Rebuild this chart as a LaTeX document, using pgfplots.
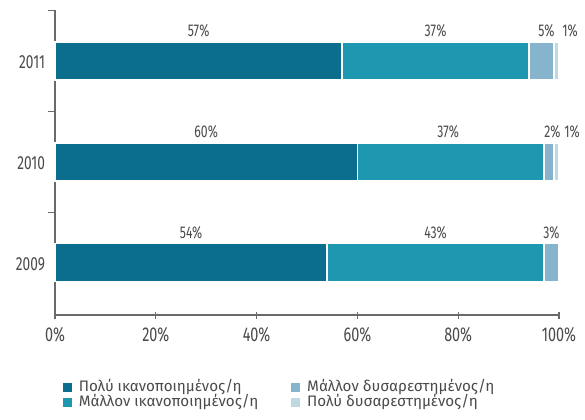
\documentclass[border=0pt]{standalone}
\usepackage{fontspec}
\setmainfont[FakeStretch=0.72]{Fira Sans}
\newfontfamily\legfont{Fira Sans}
\usepackage{pgfplots}
\pgfplotsset{compat=1.18}

\definecolor{c1}{HTML}{0B6E8C}
\definecolor{c2}{HTML}{1E97B0}
\definecolor{c3}{HTML}{86B4CD}
\definecolor{c4}{HTML}{C0D8E2}
\definecolor{txt}{HTML}{4A4A4A}
\definecolor{axl}{HTML}{6A6A6A}

\begin{document}
\begin{tikzpicture}
\useasboundingbox (-27.5pt,-52pt) rectangle (265pt,157.5pt);
\begin{axis}[
  scale only axis, width=252pt, height=152.5pt,
  xbar stacked, bar width=19pt, clip=false,
  xmin=0, xmax=100, ymin=-0.52, ymax=2.505,
  axis x line*=bottom, axis y line*=left,
  axis line style={axl, line width=0.6pt, -},
  major tick length=3.5pt,
  xtick align=center, ytick align=outside,
  xtick={0,20,40,60,80,100},
  xticklabels={0\%,20\%,40\%,60\%,80\%,100\%},
  ytick={0.5,1.5,2.5}, yticklabels={},
  extra y ticks={0,1,2}, extra y tick labels={2009,2010,2011},
  extra y tick style={tick style={draw=none}},
  tick style={axl, line width=0.6pt},
  xticklabel style={font=\fontsize{10}{12}\selectfont, text=txt, yshift=-1pt},
  yticklabel style={font=\fontsize{9.5}{11}\selectfont, text=txt, xshift=2pt, yshift=-0.8pt},
  legend columns=2, transpose legend, legend cell align=left,
  legend style={at={(0.0,-0.198)}, anchor=north west, draw=none, fill=none,
    font=\legfont\fontsize{7.6}{8}\selectfont, text=txt, row sep=0pt,
    nodes={inner sep=0.2pt, text height=5.6pt, text depth=1.6pt},
    /tikz/every odd column/.append style={column sep=2.5pt},
    /tikz/every even column/.append style={column sep=15.5pt}},
  legend image code/.code={\fill[#1] (0pt,-2.5pt) rectangle (5.2pt,2.7pt);},
]
\addplot[fill=c1, draw=white, line width=0.8pt] coordinates {(54,0) (60,1) (57,2)};
\addlegendentry{Πολύ ικανοποιημένος/η}
\addplot[fill=c2, draw=white, line width=0.8pt] coordinates {(43,0) (37,1) (37,2)};
\addlegendentry{Μάλλον ικανοποιημένος/η}
\addplot[fill=c3, draw=white, line width=0.8pt] coordinates {(3,0) (2,1) (5,2)};
\addlegendentry{Μάλλον δυσαρεστημένος/η}
\addplot[fill=c4, draw=white, line width=0.8pt] coordinates {(0,0) (1,1) (1,2)};
\addlegendentry{Πολύ δυσαρεστημένος/η}

\node[font=\fontsize{8.5}{10}\selectfont, text=txt, inner sep=0pt] at (axis cs:28.5,2.3) {57\%};
\node[font=\fontsize{8.5}{10}\selectfont, text=txt, inner sep=0pt] at (axis cs:75.5,2.3) {37\%};
\node[font=\fontsize{8.5}{10}\selectfont, text=txt, inner sep=0pt] at (axis cs:97.5,2.3) {5\%};
\node[font=\fontsize{8.5}{10}\selectfont, text=txt, inner sep=0pt] at (axis cs:102.2,2.3) {1\%};
\node[font=\fontsize{8.5}{10}\selectfont, text=txt, inner sep=0pt] at (axis cs:30,1.3) {60\%};
\node[font=\fontsize{8.5}{10}\selectfont, text=txt, inner sep=0pt] at (axis cs:78,1.3) {37\%};
\node[font=\fontsize{8.5}{10}\selectfont, text=txt, inner sep=0pt] at (axis cs:98.7,1.3) {2\%};
\node[font=\fontsize{8.5}{10}\selectfont, text=txt, inner sep=0pt] at (axis cs:102.6,1.3) {1\%};
\node[font=\fontsize{8.5}{10}\selectfont, text=txt, inner sep=0pt] at (axis cs:27,0.3) {54\%};
\node[font=\fontsize{8.5}{10}\selectfont, text=txt, inner sep=0pt] at (axis cs:75.5,0.3) {43\%};
\node[font=\fontsize{8.5}{10}\selectfont, text=txt, inner sep=0pt] at (axis cs:98.5,0.3) {3\%};
\end{axis}
\end{tikzpicture}
\end{document}
